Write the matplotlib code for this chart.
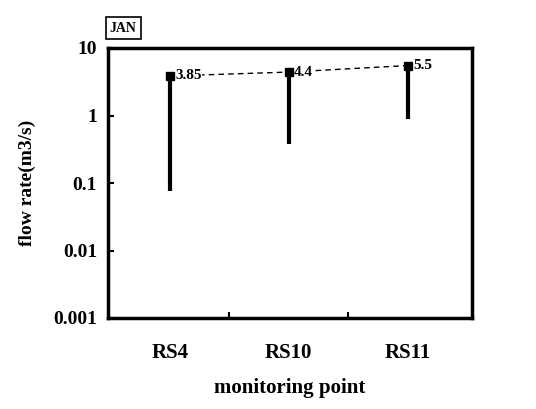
import matplotlib.pyplot as plt
import numpy as np

# monitoring points and flow rates
points = ['RS4', 'RS10', 'RS11']
flow_max = [3.85, 4.4, 5.5]
flow_min = [0.075, 0.38, 0.9]
labels = ['3.85', '4.4', '5.5']

plt.rcParams['font.family'] = ['Liberation Serif', 'DejaVu Serif']

fig = plt.figure(figsize=(5.36, 4.09), dpi=100)
ax = fig.add_axes([108 / 536, 1 - 318 / 409, 364 / 536, 270 / 409])

x = np.arange(len(points))

# range lines from min to max
ax.vlines(x, flow_min, flow_max, colors='black', linewidth=3, zorder=2)
# max values joined by dashed line
ax.plot(x, flow_max, color='black', linestyle=(0, (4, 3)), linewidth=1, zorder=1)
ax.plot(x, flow_max, color='black', linestyle='none', marker='s', markersize=6, zorder=4)
for xi, v, t in zip(x, flow_max, labels):
    ax.text(xi + 0.045, v, t, ha='left', va='center', fontsize=11, fontweight='bold',
            zorder=3, bbox=dict(boxstyle='square,pad=0.05', facecolor='white', edgecolor='none'))

ax.set_yscale('log')
ax.set_ylim(0.001, 10)
ax.set_xlim(-0.52, 2.54)
ax.set_yticks([0.001, 0.01, 0.1, 1, 10])
ax.set_yticklabels(['0.001', '0.01', '0.1', '1', '10'])
ax.yaxis.set_minor_locator(plt.NullLocator())
ax.set_xticks(x)
ax.set_xticklabels(points)
ax.set_xticks([0.5, 1.5], minor=True)
ax.tick_params(axis='x', which='major', length=0, pad=18, labelsize=15)
ax.tick_params(axis='x', which='minor', direction='in', length=4, width=1.5)
ax.tick_params(axis='y', direction='in', length=4, width=1.5, labelsize=14, pad=8)
for lab in ax.get_xticklabels() + ax.get_yticklabels():
    lab.set_fontweight('bold')

for s in ax.spines.values():
    s.set_linewidth(2.5)

ax.set_xlabel('monitoring point', fontsize=15, fontweight='bold', labelpad=11)
ax.set_ylabel('flow rate(m3/s)', fontsize=14, fontweight='bold', labelpad=12)

ax.text(0.005, 1.05, 'JAN', transform=ax.transAxes, fontsize=10, fontweight='bold',
        ha='left', va='bottom',
        bbox=dict(boxstyle='square,pad=0.3', facecolor='white', edgecolor='black', linewidth=1.2))

fig.savefig('out.png', dpi=100)
